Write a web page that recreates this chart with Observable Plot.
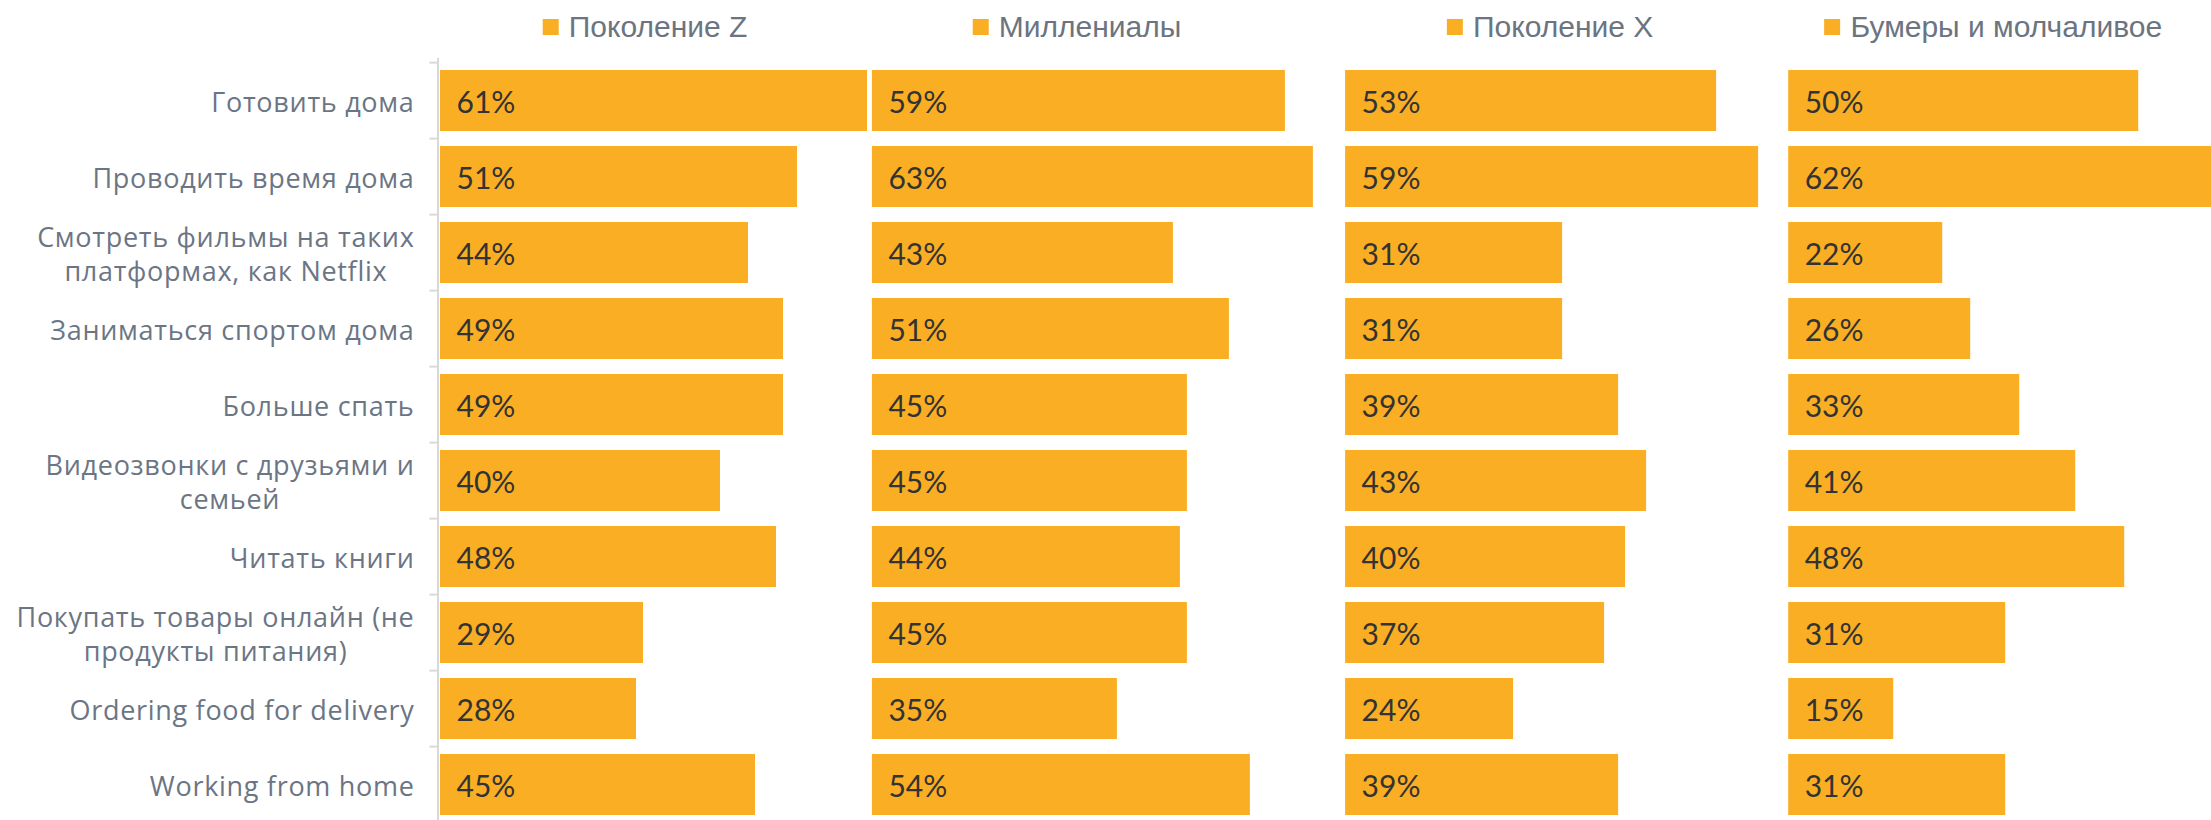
<!DOCTYPE html>
<html>
<head>
<meta charset="utf-8">
<script src="https://cdn.jsdelivr.net/npm/d3@7"></script>
<script src="https://cdn.jsdelivr.net/npm/@observablehq/plot@0.6"></script>
<style>
  html, body { margin: 0; padding: 0; background: #fff; overflow: hidden; }
  #wrap { position: relative; width: 2211px; height: 820px; overflow: hidden; }
  #legend { position: relative; width: 2211px; height: 40px; }
  .item { position: absolute; top: 10px; transform: translateX(-50%); display: flex; align-items: center;
          white-space: nowrap; font-family: "Liberation Sans", Arial, sans-serif; font-size: 30px;
          line-height: 34px; color: #6B7480; }
  .sw { width: 16px; height: 16px; background: #FAAE24; margin-right: 10px; }
  #chart svg { display: block; }
</style>
</head>
<body>
<div id="wrap">
  <div id="legend"></div>
  <div id="chart"></div>
</div>
<script>
// ---- data ----
const categories = [
  "Готовить дома",
  "Проводить время дома",
  "Смотреть фильмы на таких платформах, как Netflix",
  "Заниматься спортом дома",
  "Больше спать",
  "Видеозвонки с друзьями и семьей",
  "Читать книги",
  "Покупать товары онлайн (не продукты питания)",
  "Ordering food for delivery",
  "Working from home"
];
const tickLabels = [
  "Готовить дома",
  "Проводить время дома",
  "Смотреть фильмы на таких\nплатформах, как Netflix",
  "Заниматься спортом дома",
  "Больше спать",
  "Видеозвонки с друзьями и\nсемьей",
  "Читать книги",
  "Покупать товары онлайн (не\nпродукты питания)",
  "Ordering food for delivery",
  "Working from home"
];
const seriesNames = ["Поколение Z", "Миллениалы", "Поколение X", "Бумеры и молчаливое"];
const genZ        = [61, 51, 44, 49, 49, 40, 48, 29, 28, 45];
const millennials = [59, 63, 43, 51, 45, 45, 44, 45, 35, 54];
const genX        = [53, 59, 31, 31, 39, 43, 40, 37, 24, 39];
const boomers     = [50, 62, 22, 26, 33, 41, 48, 31, 15, 31];

// ---- layout (x units = percentage points) ----
const panelStart = [0, 61.7, 129.3, 192.6];
const legendCenterOffset = 29.3;
const barColor = "#FAAE24";

const seriesValues = [genZ, millennials, genX, boomers];
const rows = seriesValues.flatMap((vals, s) =>
  vals.map((v, i) => ({cat: categories[i], s, series: seriesNames[s], value: v})));

const nBands = categories.length;
const marginTop = 18;
const plotRange = 768;
const step = plotRange / nBands;

const plot = Plot.plot({
  width: 2211,
  height: marginTop + plotRange,
  marginLeft: 440,
  marginRight: 0,
  marginTop,
  marginBottom: 0,
  style: {fontFamily: "'Open Sans', sans-serif", background: "#fff", overflow: "hidden"},
  x: {domain: [0, 253], axis: null},
  y: {domain: categories, paddingInner: 0.2, paddingOuter: 0.1, axis: null},
  marks: [
    Plot.barX(rows, {y: "cat", x1: d => panelStart[d.s], x2: d => panelStart[d.s] + d.value, fill: barColor}),
    Plot.text(rows, {
      y: "cat", x: d => panelStart[d.s], text: d => d.value + "%",
      dx: 16, dy: 2, textAnchor: "start", fontSize: 30, fill: "#333333",
      fontFamily: "Lato, sans-serif"
    }),
    Plot.ruleX([0], {dx: -2.5, stroke: "#D9D9D9", strokeWidth: 2}),
    Plot.ruleY(categories, {y: d => d, dy: -step / 2, x1: -1.15, x2: 0, dx: -2.5, stroke: "#D9D9D9", strokeWidth: 2}),
    Plot.axisY({
      label: null,
      tickSize: 0, tickPadding: 26, fontSize: 27, lineHeight: 1.26,
      tickFormat: d => tickLabels[categories.indexOf(d)],
      color: "#6B7584", fontFamily: "'Open Sans', sans-serif"
    })
  ]
});
document.getElementById("chart").appendChild(plot);

// widen label tracking (Century Gothic–like width), then center multi-line labels in their block
plot.querySelectorAll("[aria-label='y-axis tick label']").forEach(g => { g.style.letterSpacing = "0.7px"; });
plot.querySelectorAll("[aria-label='y-axis tick label'] text").forEach(t => {
  const spans = t.querySelectorAll("tspan");
  if (spans.length > 1) {
    let maxW = 0;
    spans.forEach(sp => { maxW = Math.max(maxW, sp.getComputedTextLength()); });
    t.setAttribute("text-anchor", "middle");
    spans.forEach(sp => sp.setAttribute("x", -maxW / 2));
  }
});

// legend, centered above each panel via the x scale
const xs = plot.scale("x");
const legend = document.getElementById("legend");
seriesNames.forEach((name, s) => {
  const it = document.createElement("div");
  it.className = "item";
  it.style.left = xs.apply(panelStart[s] + legendCenterOffset) + "px";
  const sw = document.createElement("span");
  sw.className = "sw";
  it.appendChild(sw);
  it.appendChild(document.createTextNode(name));
  legend.appendChild(it);
});
</script>
</body>
</html>
